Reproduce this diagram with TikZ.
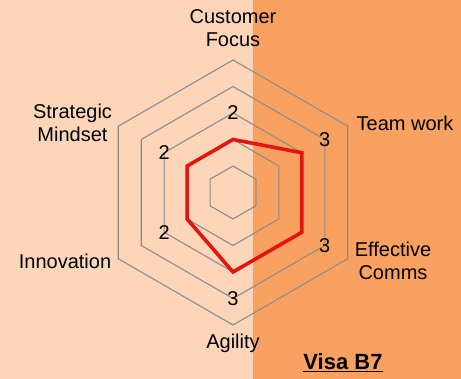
\documentclass[tikz,border=0pt]{standalone}
\usepackage{fontspec}
\setmainfont{Liberation Sans}
\usetikzlibrary{positioning}
\definecolor{peach}{HTML}{FDD5B9}
\definecolor{orangebg}{HTML}{F9A161}
\definecolor{ringgray}{HTML}{8C8C8C}
\definecolor{scorered}{HTML}{E2160E}

\begin{document}
\begin{tikzpicture}[x=1pt, y=1pt,
  axislabel/.style={font=\fontsize{20}{23}\selectfont, align=center, inner sep=0pt},
  scorelabel/.style={font=\fontsize{20}{23}\selectfont, inner sep=0pt},
  ring/.style={draw=ringgray, line width=1.1pt},
  score/.style={draw=scorered, line width=3.6pt}]
  % background halves
  \fill[peach] (0,0) rectangle (253,379);
  \fill[orangebg] (253,0) rectangle (461,379);
  \useasboundingbox (0,0) rectangle (461,379);
  % hexagon grid
  \begin{scope}[shift={(233,186.5)}]
    \foreach \k in {1,...,5}
      \draw[ring] (90:26.5*\k) -- (30:26.5*\k) -- (-30:26.5*\k)
        -- (-90:26.5*\k) -- (-150:26.5*\k) -- (150:26.5*\k) -- cycle;
    % scores
    \draw[score] (90:53) -- (30:79.5) -- (-30:79.5) -- (-90:79.5)
      -- (-150:53) -- (150:53) -- cycle;
    \foreach \a/\v in {90/2, 30/3, -30/3, -90/3, -150/2, 150/2}
      \node[scorelabel] (s\a) at (\a:26.5*\v+26.5) {\v};
  \end{scope}
  % axis labels
  \node[axislabel] (focus) at (233,350.5) {Customer\\Focus};
  \node[axislabel] (team) at (405,256) {Team work};
  \node[axislabel] (comms) at (393,118.5) {Effective\\Comms};
  \node[axislabel] (agility) at (233,36) {Agility};
  \node[axislabel] (innov) at (65,118) {Innovation};
  \node[axislabel] (mindset) at (72.5,256.5) {Strategic\\Mindset};
  \node[font=\fontsize{22}{26}\selectfont\bfseries, inner sep=0pt] (title) at (343,16) {\underline{Visa B7}};
\end{tikzpicture}
\end{document}
